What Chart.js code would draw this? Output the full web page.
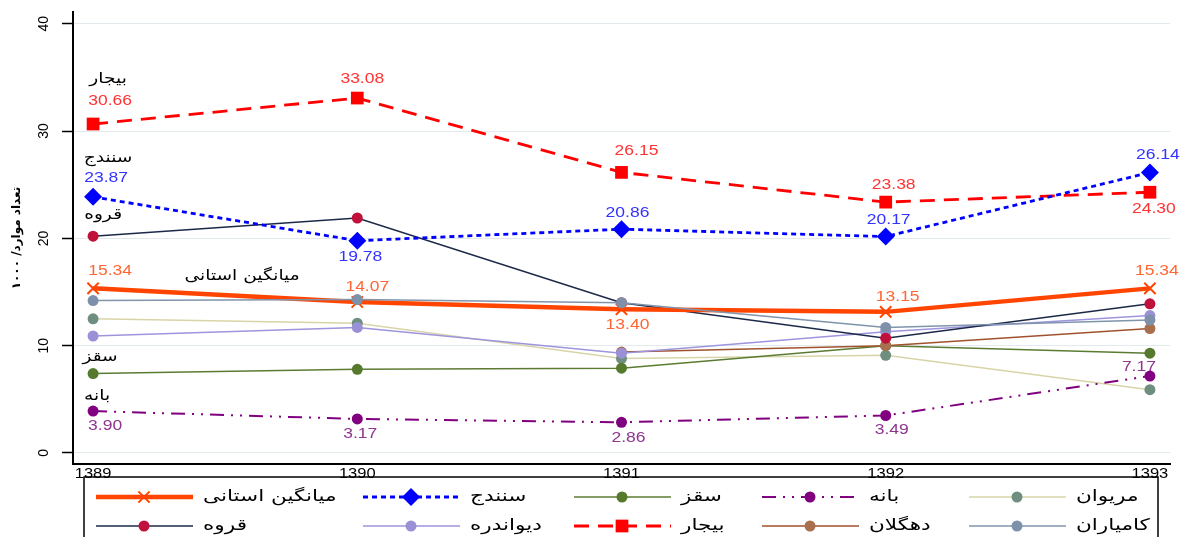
<!DOCTYPE html>
<html>
<head>
<meta charset="utf-8">
<script src="https://cdn.jsdelivr.net/npm/chart.js@4.4.1/dist/chart.umd.min.js"></script>
<style>
  html, body { margin: 0; padding: 0; background: #fff; }
</style>
</head>
<body>
<canvas id="chart" width="1182" height="537"></canvas>
<script>
// values
const years = [1389, 1390, 1391, 1392, 1393];
const yTicks = [0, 10, 20, 30, 40];
const average = [15.34, 14.07, 13.40, 13.15, 15.34];
const sanandaj = [23.87, 19.78, 20.86, 20.17, 26.14];
const saqqez = [7.4, 7.8, 7.9, 10.0, 9.3];
const baneh = [3.90, 3.17, 2.86, 3.49, 7.17];
const marivan = [12.5, 12.1, 8.8, 9.1, 5.9];
const qorveh = [20.2, 21.9, 14.0, 10.7, 13.9];
const divandarreh = [10.9, 11.7, 9.3, 11.3, 12.8];
const bijar = [30.66, 33.08, 26.15, 23.38, 24.30];
const dehgolan = [null, null, 9.4, 10.0, 11.6];
const kamyaran = [14.2, 14.3, 14.0, 11.7, 12.4];

const NUM_FONT = '14px "Liberation Sans", Arial, sans-serif';
const FA_FONT = '15px "DejaVu Sans", sans-serif';
const LEGEND_FONT = '16px "DejaVu Sans", sans-serif';

// legend order: row 1 then row 2
const series = [
  { label: 'میانگین استانی', data: average, line: '#FF4500', point: '#FF4500', width: 4.5, dash: [], style: 'crossRot', radius: 8, order: 2 },
  { label: 'سنندج', data: sanandaj, line: '#0000FF', point: '#0000FF', width: 2.8, dash: [5, 4], style: 'rectRot', radius: 9, order: 0 },
  { label: 'سقز', data: saqqez, line: '#5B7B33', point: '#557A2E', width: 1.5, dash: [], style: 'circle', radius: 5.5, order: 6 },
  { label: 'بانه', data: baneh, line: '#800080', point: '#800080', width: 2, dash: [14, 7, 2, 7, 2, 7], style: 'circle', radius: 5.5, order: 0 },
  { label: 'مریوان', data: marivan, line: '#D9D4A8', point: '#6E8F80', width: 1.5, dash: [], style: 'circle', radius: 5.5, order: 7 },
  { label: 'قروه', data: qorveh, line: '#1B2847', point: '#C0103C', width: 1.5, dash: [], style: 'circle', radius: 5.5, order: 3 },
  { label: 'دیواندره', data: divandarreh, line: '#9D95DD', point: '#9A90D6', width: 1.5, dash: [], style: 'circle', radius: 5.5, order: 4 },
  { label: 'بیجار', data: bijar, line: '#FF0000', point: '#FF0000', width: 2.8, dash: [15, 9], style: 'rect', radius: 9, order: 0 },
  { label: 'دهگلان', data: dehgolan, line: '#A0522D', point: '#A8704E', width: 1.5, dash: [], style: 'circle', radius: 5.5, order: 5 },
  { label: 'کامیاران', data: kamyaran, line: '#8094AC', point: '#7D91AA', width: 1.5, dash: [], style: 'circle', radius: 5.5, order: 1 }
];

// value labels: offsets in px from the point (dy negative = above)
const valueLabels = [
  { data: average, color: '#FF6633', dx: [17, 10, 6, 12, 7], dy: [-17, -15, 16, -15, -17] },
  { data: sanandaj, color: '#3333FF', dx: [13, 3, 6, 3, 8], dy: [-19, 16, -16, -16, -17] },
  { data: bijar, color: '#FF3333', dx: [17, 5, 15, 8, 4], dy: [-23, -19, -21, -17, 17] },
  { data: baneh, color: '#8E358E', dx: [12, 3, 7, 6, -11], dy: [15, 15, 16, 15, -9] }
];

// series names written next to the first point
const nameLabels = [
  { text: 'بیجار', data: bijar, dx: 15, dy: -45 },
  { text: 'سنندج', data: sanandaj, dx: 15, dy: -39 },
  { text: 'قروه', data: qorveh, dx: 10, dy: -21 },
  { text: 'میانگین استانی', data: average, dx: 149, dy: -12 },
  { text: 'سقز', data: saqqez, dx: 7, dy: -16 },
  { text: 'بانه', data: baneh, dx: 4, dy: -15 }
];

function drawMarker(ctx, s, x, y) {
  const r = s.radius;
  ctx.save();
  ctx.setLineDash([]);
  ctx.fillStyle = s.point;
  ctx.strokeStyle = s.point;
  ctx.beginPath();
  if (s.style === 'circle') {
    ctx.arc(x, y, r, 0, Math.PI * 2);
    ctx.fill();
  } else if (s.style === 'rect') {
    const h = r * Math.SQRT1_2;
    ctx.rect(x - h, y - h, 2 * h, 2 * h);
    ctx.fill();
  } else if (s.style === 'rectRot') {
    ctx.moveTo(x - r, y); ctx.lineTo(x, y - r); ctx.lineTo(x + r, y); ctx.lineTo(x, y + r);
    ctx.closePath();
    ctx.fill();
  } else {
    const h = r * Math.SQRT1_2;
    ctx.lineWidth = 2;
    ctx.moveTo(x - h, y - h); ctx.lineTo(x + h, y + h);
    ctx.moveTo(x + h, y - h); ctx.lineTo(x - h, y + h);
    ctx.stroke();
  }
  ctx.restore();
}

function stretchText(ctx, text, x, y, sx) {
  ctx.save();
  ctx.translate(x, y);
  ctx.scale(sx, 1);
  ctx.fillText(text, 0, 0);
  ctx.restore();
}

const overlay = {
  id: 'overlay',
  afterDraw(chart) {
    const ctx = chart.ctx;
    const xs = chart.scales.x, ys = chart.scales.y;
    ctx.save();
    ctx.fillStyle = '#000';

    // y tick labels, rotated
    ctx.font = NUM_FONT;
    ctx.textAlign = 'center';
    ctx.textBaseline = 'middle';
    ys.ticks.forEach(t => {
      ctx.save();
      ctx.translate(44, ys.getPixelForValue(t.value));
      ctx.rotate(-Math.PI / 2);
      ctx.fillText(String(t.value), 0, 0);
      ctx.restore();
    });

    // x tick labels
    ctx.textBaseline = 'top';
    xs.ticks.forEach(t => {
      stretchText(ctx, String(t.value), xs.getPixelForValue(t.value), chart.chartArea.bottom + 3, 1.18);
    });

    // value labels
    ctx.textBaseline = 'middle';
    valueLabels.forEach(v => {
      ctx.fillStyle = v.color;
      v.data.forEach((val, i) => {
        if (val === null) return;
        const px = xs.getPixelForValue(years[i]) + v.dx[i];
        const py = ys.getPixelForValue(val) + v.dy[i];
        stretchText(ctx, val.toFixed(2), px, py, 1.25);
      });
    });

    // names
    ctx.fillStyle = '#000';
    ctx.font = FA_FONT;
    nameLabels.forEach(n => {
      const px = xs.getPixelForValue(years[0]) + n.dx;
      const py = ys.getPixelForValue(n.data[0]) + n.dy;
      stretchText(ctx, n.text, px, py, 1.24);
    });

    // legend
    const cols = [96, 363, 574, 762, 969];
    const rows = [497, 526];
    ctx.strokeStyle = '#000';
    ctx.lineWidth = 1.5;
    ctx.strokeRect(84, 477, 1074, 90);
    ctx.textAlign = 'left';
    ctx.font = LEGEND_FONT;
    series.forEach((s, i) => {
      const x0 = cols[i % 5], y0 = rows[Math.floor(i / 5)];
      ctx.save();
      ctx.strokeStyle = s.line;
      ctx.lineWidth = s.width;
      ctx.setLineDash(s.dash);
      ctx.beginPath();
      ctx.moveTo(x0, y0);
      ctx.lineTo(x0 + 97, y0);
      ctx.stroke();
      ctx.restore();
      drawMarker(ctx, s, x0 + 48, y0);
      ctx.fillStyle = '#000';
      stretchText(ctx, s.label, x0 + 107, y0, 1.35);
    });
    ctx.restore();
  }
};

const datasets = series.map(s => ({
  label: s.label,
  data: s.data.map((v, i) => ({ x: years[i], y: v })),
  borderColor: s.line,
  borderWidth: s.width,
  borderDash: s.dash,
  backgroundColor: s.point,
  pointStyle: s.style,
  pointRadius: s.radius,
  pointHoverRadius: s.radius,
  pointBackgroundColor: s.point,
  pointBorderColor: s.point,
  pointBorderWidth: s.style === 'crossRot' ? 2 : 0,
  tension: 0,
  spanGaps: false,
  order: s.order
}));

new Chart(document.getElementById('chart').getContext('2d'), {
  type: 'line',
  data: { datasets },
  plugins: [overlay],
  options: {
    responsive: false,
    animation: false,
    layout: { padding: { top: 12, right: 12, left: 0, bottom: 0 } },
    plugins: {
      legend: { display: false },
      tooltip: { enabled: false }
    },
    scales: {
      x: {
        type: 'linear',
        min: 1388.924,
        max: 1393.076,
        afterBuildTicks: scale => { scale.ticks = years.map(v => ({ value: v })); },
        afterFit: scale => { scale.height = 73; },
        ticks: { display: false },
        grid: { display: false },
        border: { display: true, color: '#000', width: 2 }
      },
      y: {
        min: -1.03,
        max: 41.1,
        afterBuildTicks: scale => { scale.ticks = yTicks.map(v => ({ value: v })); },
        afterFit: scale => { scale.width = 73; },
        ticks: { display: false },
        grid: { color: '#E3EAEE', lineWidth: 1, tickColor: '#000', tickLength: 11, tickWidth: 1.5 },
        border: { display: true, color: '#000', width: 2 },
        title: {
          display: true,
          text: 'تعداد موارد/ ۱۰۰۰',
          color: '#000',
          font: { family: 'DejaVu Sans', size: 12, weight: 'bold' },
          padding: { top: 10, bottom: 0 }
        }
      }
    }
  }
});
</script>
</body>
</html>
